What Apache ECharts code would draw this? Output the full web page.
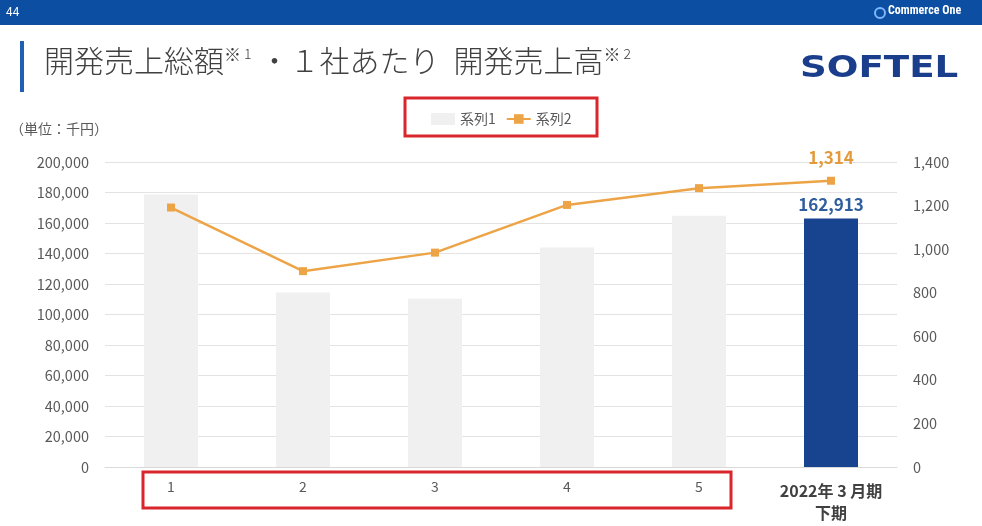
<!DOCTYPE html>
<html><head><meta charset="utf-8">
<script src="https://cdn.jsdelivr.net/npm/echarts@6/dist/echarts.min.js"></script>
<style>html,body{margin:0;padding:0;background:#fff}#c{width:982px;height:526px}</style>
</head><body><div id="c"></div>
<script>
const categories = ['1','2','3','4','5','2022年 3 月期\n下期'];
const series1 = [178700, 114500, 110300, 143900, 164700, 162913];
const series2 = [1191, 899, 984, 1203, 1280, 1314];
const leftTicks = {min:0, max:200000, interval:20000};
const rightTicks = {min:0, max:1400, interval:200};

const font = '"Noto Sans CJK JP", "Noto Sans", sans-serif';
const chart = echarts.init(document.getElementById('c'));
const last = categories.length - 1;
chart.setOption({
  animation:false,
  textStyle:{fontFamily:font},
  grid:{left:105, right:85, top:162, bottom:59},
  legend:{
    top:107, left:426,
    itemWidth:24, itemHeight:12, itemGap:10,
    textStyle:{color:'#595959', fontSize:14, fontFamily:font},
    data:[{name:'系列1', icon:'rect'}, {name:'系列2'}]
  },
  xAxis:{
    type:'category', data:categories,
    axisLine:{show:true, lineStyle:{color:'#d9d9d9'}},
    axisTick:{show:false},
    axisLabel:{
      interval:0, margin:13, color:'#595959', fontSize:14, fontFamily:font,
      formatter:function(v, i){ return i===last ? '{b|'+v+'}' : v; },
      rich:{b:{fontWeight:'bold', color:'#404040', fontSize:16, lineHeight:22, fontFamily:font}}
    }
  },
  yAxis:[
    {type:'value', min:leftTicks.min, max:leftTicks.max, interval:leftTicks.interval,
     axisLabel:{color:'#595959', fontSize:14.5, margin:16, fontFamily:font,
       formatter:v=>v.toLocaleString('en-US')},
     splitLine:{lineStyle:{color:'#e3e3e3'}}, axisLine:{show:false}, axisTick:{show:false}},
    {type:'value', min:rightTicks.min, max:rightTicks.max, interval:rightTicks.interval,
     axisLabel:{color:'#595959', fontSize:14.5, margin:16, fontFamily:font,
       formatter:v=>v.toLocaleString('en-US')},
     splitLine:{show:false}, axisLine:{show:false}, axisTick:{show:false}}
  ],
  series:[
    {name:'系列1', type:'bar', barWidth:54, yAxisIndex:0,
     itemStyle:{color:'#f0f0f0'},
     data:series1.map((v,i)=> i===last ? {value:v, itemStyle:{color:'#17438f'},
        label:{show:true, position:'top', distance:6, color:'#2f5e9e', fontSize:17, fontWeight:'bold',
          fontFamily:font, formatter:p=>p.value.toLocaleString('en-US')}} : v)},
    {name:'系列2', type:'line', yAxisIndex:1, symbol:'rect', symbolSize:8,
     lineStyle:{color:'#eda447', width:2.5}, itemStyle:{color:'#eda447'},
     data:series2.map((v,i)=> i===last ? {value:v,
        label:{show:true, position:'top', distance:11, color:'#e39a3a', fontSize:17, fontWeight:'bold',
          fontFamily:font, formatter:p=>p.value.toLocaleString('en-US')}} : v)}
  ],
  graphic:[
    {type:'rect', shape:{x:0,y:0,width:982,height:25}, style:{fill:'#0b4ea2'}},
    {type:'text', left:6, top:5, style:{text:'44', fill:'#ffffff', fontSize:12, fontFamily:font}},
    {type:'circle', shape:{cx:880, cy:13, r:5}, style:{fill:'none', stroke:'#7fb6ff', lineWidth:2}},
    {type:'text', left:888, top:5, style:{text:'Commerce One', fill:'#ffffff', fontSize:12, fontWeight:'bold', fontFamily:'"Roboto Condensed", Roboto, sans-serif'}},
    {type:'rect', shape:{x:20,y:41,width:4,height:51}, style:{fill:'#1f5fb4'}},
    {type:'text', left:44, top:46, style:{
      text:'{a|開発売上総額}{s|※}{n|1}{d|・１社あたり}{g|開発売上高}{s|※}{n|2}',
      rich:{
        a:{fontSize:30, fill:'#404040', fontFamily:font, fontWeight:300, verticalAlign:'bottom'},
        d:{fontSize:30, fill:'#404040', fontFamily:font, fontWeight:300, verticalAlign:'bottom', padding:[0,0,0,8]},
        g:{fontSize:30, fill:'#404040', fontFamily:font, fontWeight:300, verticalAlign:'bottom', padding:[0,0,0,14]},
        s:{fontSize:17, fill:'#404040', fontFamily:font, fontWeight:300, verticalAlign:'top'},
        n:{fontSize:14, fill:'#404040', fontFamily:font, fontWeight:300, verticalAlign:'top', padding:[1,0,0,3]}
      }}},
    {type:'text', x:800, y:54, scaleX:1.24, style:{text:'SOFTEL', fill:'#1a3e8c', fontSize:30, fontWeight:'bold', fontFamily:'"DejaVu Sans", sans-serif'}},
    {type:'text', left:10, top:122, style:{text:'（単位：千円）', fill:'#595959', fontSize:14, fontFamily:font}},
    {type:'rect', shape:{x:405,y:98,width:192,height:38}, style:{fill:'none', stroke:'#d9262c', lineWidth:3}},
    {type:'rect', shape:{x:143,y:472,width:588,height:36}, style:{fill:'none', stroke:'#d9262c', lineWidth:3}}
  ]
});
</script></body></html>
